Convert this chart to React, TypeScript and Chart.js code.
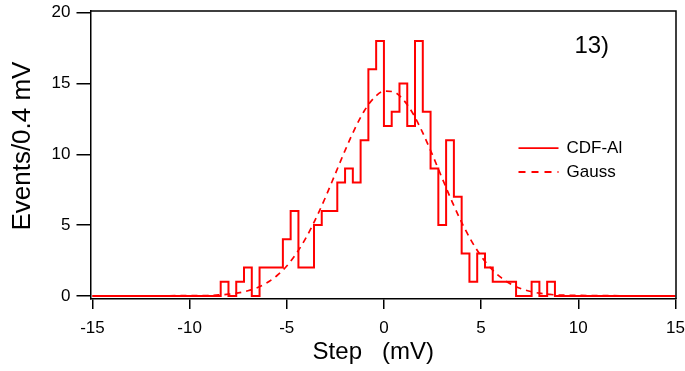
import React, { useEffect, useRef } from 'react';
import { Chart, registerables } from 'chart.js';

Chart.register(...registerables);

// ---- data ----
const binStarts = [
  -8.4, -8.0, -7.6, -7.2, -6.8, -6.4, -6.0, -5.6, -5.2, -4.8, -4.4, -4.0, -3.6, -3.2, -2.8,
  -2.4, -2.0, -1.6, -1.2, -0.8, -0.4, 0, 0.4, 0.8, 1.2, 1.6, 2.0, 2.4, 2.8, 3.2, 3.6, 4.0,
  4.4, 4.8, 5.2, 5.6, 6.0, 6.4, 6.8, 7.2, 7.6, 8.0, 8.4, 8.8,
];
const histCounts = [
  1, 0, 1, 2, 0, 2, 2, 2, 4, 6, 2, 2, 5, 6, 6, 8, 9, 8, 11, 16, 18, 12, 13, 15, 12, 18, 13, 9,
  5, 11, 7, 3, 1, 3, 2, 1, 1, 1, 0, 0, 1, 0, 1, 0,
];
const gaussX = [
  -15, -9, -8.5, -8, -7.5, -7, -6.5, -6, -5.5, -5, -4.5, -4, -3.5, -3, -2.5, -2, -1.5, -1, -0.5,
  0, 0.5, 1, 1.5, 2, 2.5, 3, 3.5, 4, 4.5, 5, 5.5, 6, 6.5, 7, 7.5, 8, 8.5, 9, 15,
];
const gaussY = [
  0, 0.03, 0.07, 0.12, 0.21, 0.36, 0.59, 0.94, 1.44, 2.11, 3.01, 4.13, 5.47, 6.99, 8.63, 10.27,
  11.8, 13.09, 14.0, 14.46, 14.41, 13.85, 12.86, 11.51, 9.95, 8.3, 6.68, 5.19, 3.89, 2.81, 1.96,
  1.32, 0.86, 0.54, 0.33, 0.19, 0.11, 0.06, 0,
];
const xTicks = [-15, -10, -5, 0, 5, 10, 15];
const yTicks = [0, 5, 10, 15, 20];
const xRange = [-15, 15];
const seriesLabels = ['CDF-Al', 'Gauss'];
const panelLabel = '13)';
const xTitle = 'Step   (mV)';
const yTitle = 'Events/0.4 mV';

const FONT = "'Liberation Sans', Arial, sans-serif";
const RED = '#ff0000';

const W = 685;
const H = 371;

const overlayPlugin = {
  id: 'overlay',
  afterDatasetsDraw(chart: any) {
    const { ctx, chartArea } = chart;
    const { left, right, top, bottom } = chartArea;
    ctx.save();
    // frame: top and right edges
    ctx.strokeStyle = '#000';
    ctx.lineWidth = 1.5;
    ctx.beginPath();
    ctx.moveTo(left, top);
    ctx.lineTo(right, top);
    ctx.lineTo(right, bottom);
    ctx.stroke();

    // legend
    const lx = left + (right - left) * 0.731;
    const ly1 = top + (bottom - top) * 0.476;
    const ly2 = top + (bottom - top) * 0.559;
    ctx.strokeStyle = RED;
    ctx.lineWidth = 1.8;
    ctx.setLineDash([]);
    ctx.beginPath();
    ctx.moveTo(lx, ly1);
    ctx.lineTo(lx + 40, ly1);
    ctx.stroke();
    ctx.setLineDash([7, 6]);
    ctx.beginPath();
    ctx.moveTo(lx, ly2);
    ctx.lineTo(lx + 40, ly2);
    ctx.stroke();
    ctx.setLineDash([]);
    ctx.fillStyle = '#000';
    ctx.font = `17px ${FONT}`;
    ctx.textAlign = 'left';
    ctx.textBaseline = 'middle';
    ctx.fillText(seriesLabels[0], lx + 48, ly1);
    ctx.fillText(seriesLabels[1], lx + 48, ly2);

    // panel label
    ctx.font = `24px ${FONT}`;
    ctx.fillText(panelLabel, left + (right - left) * 0.8265, top + (bottom - top) * 0.122);

    // x title (sits slightly left of the plot centre in the reference)
    ctx.textAlign = 'center';
    ctx.font = `24px ${FONT}`;
    ctx.fillText(xTitle, left + (right - left) * 0.483, bottom + 53);

    // y title
    ctx.translate(23, top + (bottom - top) * 0.469);
    ctx.rotate(-Math.PI / 2);
    ctx.font = `26px ${FONT}`;
    ctx.fillText(yTitle, 0, 0);
    ctx.restore();
  },
};

export default function App() {
  const ref = useRef<HTMLCanvasElement | null>(null);

  useEffect(() => {
    if (!ref.current) return;
    const histData: { x: number; y: number }[] = [{ x: xRange[0], y: 0 }];
    binStarts.forEach((x, i) => histData.push({ x, y: histCounts[i] }));
    histData.push({ x: xRange[1], y: 0 });
    const gaussData = gaussX.map((x, i) => ({ x, y: gaussY[i] }));

    const chart = new Chart(ref.current, {
      type: 'line',
      data: {
        datasets: [
          {
            label: seriesLabels[0],
            data: histData,
            borderColor: RED,
            borderWidth: 2,
            pointRadius: 0,
            stepped: 'before',
            fill: false,
          },
          {
            label: seriesLabels[1],
            data: gaussData,
            borderColor: RED,
            borderWidth: 1.7,
            borderDash: [6, 5],
            pointRadius: 0,
            cubicInterpolationMode: 'monotone',
            fill: false,
          },
        ],
      },
      options: {
        responsive: false,
        animation: false,
        layout: { padding: { top: 11, right: 9, left: 0, bottom: 0 } },
        plugins: {
          legend: { display: false },
          tooltip: { enabled: false },
        },
        scales: {
          x: {
            type: 'linear',
            min: -15.1,
            max: 15.03,
            afterBuildTicks: (s: any) => {
              s.ticks = xTicks.map((v) => ({ value: v }));
            },
            afterFit: (s: any) => {
              s.height = 72;
              s.paddingLeft = 0;
              s.paddingRight = 0;
            },
            grid: {
              display: true,
              drawOnChartArea: false,
              drawTicks: true,
              tickLength: 10,
              color: '#000',
              lineWidth: 1.5,
            },
            border: { display: true, color: '#000', width: 1.5 },
            ticks: {
              color: '#000',
              font: { size: 17, family: FONT },
              padding: 9,
              maxRotation: 0,
              autoSkip: false,
            },
            title: { display: false },
          },
          y: {
            type: 'linear',
            min: -0.22,
            max: 20.12,
            afterBuildTicks: (s: any) => {
              s.ticks = yTicks.map((v) => ({ value: v }));
            },
            afterFit: (s: any) => {
              s.width = 90.5;
              s.paddingTop = 0;
              s.paddingBottom = 0;
            },
            grid: {
              display: true,
              drawOnChartArea: false,
              drawTicks: true,
              tickLength: 14,
              color: '#000',
              lineWidth: 1.5,
            },
            border: { display: true, color: '#000', width: 1.5 },
            ticks: {
              color: '#000',
              font: { size: 17, family: FONT },
              padding: 6,
            },
            title: { display: false },
          },
        },
      },
      plugins: [overlayPlugin],
    });
    return () => chart.destroy();
  }, []);

  return (
    <div style={{ position: 'fixed', left: 0, top: 0, width: W, height: H, background: '#fff' }}>
      <canvas ref={ref} width={W} height={H} style={{ width: W, height: H }} />
    </div>
  );
}
